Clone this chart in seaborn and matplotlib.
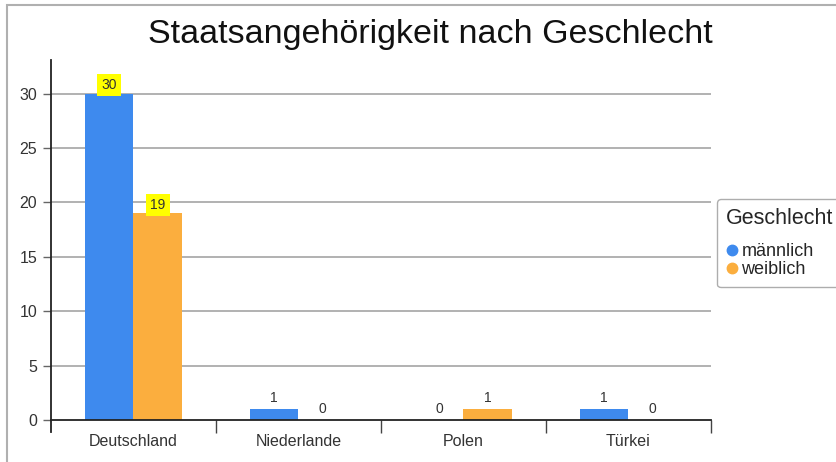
import pandas as pd
import numpy as np
import seaborn as sns
import matplotlib.pyplot as plt
import matplotlib.patches as mpatches
from matplotlib.lines import Line2D

# --- data ---
countries = ["Deutschland", "Niederlande", "Polen", "Türkei"]
maennlich = [30, 1, 0, 1]
weiblich = [19, 0, 1, 0]
genders = ["männlich", "weiblich"]
yticks = [0, 5, 10, 15, 20, 25, 30]

df = pd.DataFrame({
    "Land": countries * 2,
    "Geschlecht": [genders[0]] * len(countries) + [genders[1]] * len(countries),
    "Anzahl": maennlich + weiblich,
})

palette = {"männlich": "#3e8aee", "weiblich": "#fbae3e"}

sns.set_theme(style="white")
plt.rcParams['font.family'] = ['Liberation Sans', 'DejaVu Sans']

fig = plt.figure(figsize=(8.37, 4.62), dpi=100)
ax = fig.add_axes([51 / 837, 30 / 462, 660 / 837, 372 / 462])

sns.barplot(data=df, x="Land", y="Anzahl", hue="Geschlecht", palette=palette,
            width=0.59, saturation=1, ax=ax, legend=False, zorder=3, linewidth=0)

ax.set_ylim(-1.1, 33.1)
ax.set_xlim(-0.5, 3.5)

# gridlines
for v in yticks[1:]:
    ax.axhline(v, color="#ababab", lw=1.3, zorder=1)

# spines
for s in ["top", "right"]:
    ax.spines[s].set_visible(False)
ax.spines["bottom"].set_position(("data", 0))
ax.spines["bottom"].set_color("#222222")
ax.spines["bottom"].set_linewidth(1.3)
ax.spines["bottom"].set_zorder(4)
ax.spines["left"].set_color("#222222")
ax.spines["left"].set_linewidth(1.3)

ax.set_yticks(yticks)
ax.tick_params(axis="y", direction="out", length=6, width=1.0, color="#666666",
               labelsize=11.5, labelcolor="#333333", pad=4, left=True)

# category separators as major ticks, names as minor ticks
ax.set_xticks([0.5, 1.5, 2.5, 3.5])
ax.set_xticklabels([])
ax.tick_params(axis="x", which="major", direction="out", length=9, width=1.0,
               color="#444444", bottom=True)
ax.set_xticks(range(len(countries)), minor=True)
ax.set_xticklabels(countries, minor=True)
ax.tick_params(axis="x", which="minor", length=0, pad=10, labelsize=11.5,
               labelcolor="#333333")
ax.set_xlabel("")
ax.set_ylabel("")

# value labels
for cont in ax.containers:
    for bar in cont:
        h = bar.get_height()
        x = bar.get_x() + bar.get_width() / 2
        if h >= 10:
            ax.annotate(f"{int(h)}", (x, h), xytext=(0, 1), textcoords="offset points",
                        ha="center", va="bottom", fontsize=10, color="#333333",
                        bbox=dict(boxstyle="square,pad=0.3", fc="#ffff00", ec="none"),
                        zorder=5)
        else:
            ax.annotate(f"{int(h)}", (x, h), xytext=(0, 3), textcoords="offset points",
                        ha="center", va="bottom", fontsize=10, color="#333333",
                        zorder=5)

fig.text(430 / 837, 1 - 34 / 462, "Staatsangehörigkeit nach Geschlecht",
         ha="center", va="center", fontsize=24.5, color="#111111")

handles = [Line2D([], [], marker="o", ls="", color=palette[g], markersize=7.5, label=g)
           for g in genders]
leg = ax.legend(handles=handles, title="Geschlecht", loc="upper left",
                bbox_to_anchor=(717 / 837, 1 - 199 / 462), bbox_transform=fig.transFigure,
                frameon=True, fancybox=True, fontsize=13, title_fontsize=15.5,
                handletextpad=0.15, handlelength=0.7, labelspacing=0.08,
                borderpad=0.5, borderaxespad=0)
leg.get_frame().set_edgecolor("#999999")
leg.get_frame().set_linewidth(1.0)
leg._legend_box.align = "left"
leg._legend_box.sep = 10

# outer border of the chart frame
fig.patches.append(mpatches.Rectangle((7 / 837, -0.1), 1.2, 1 - 5 / 462 + 0.1,
                                      transform=fig.transFigure, fill=False,
                                      ec="#b0b0b0", lw=1.5))

fig.savefig("out.png", dpi=100)
